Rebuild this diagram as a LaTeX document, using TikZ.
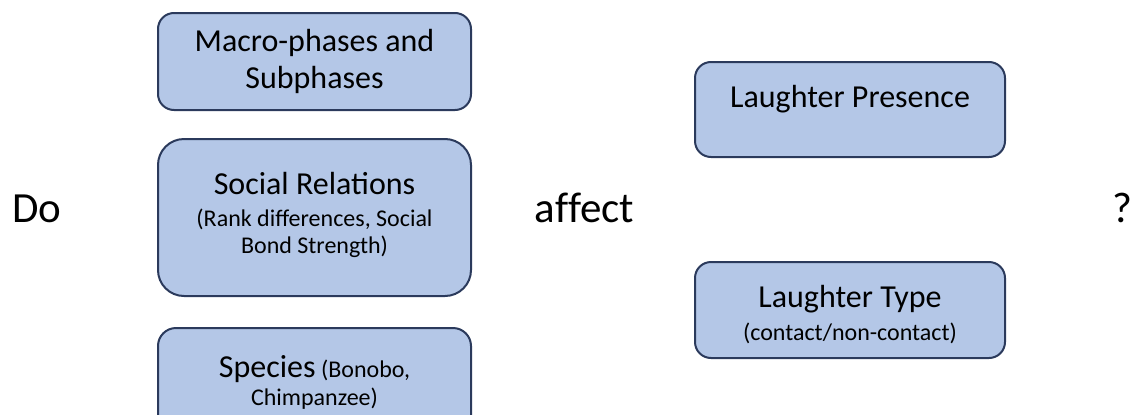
\documentclass[tikz,border=0pt]{standalone}
\usepackage{fontspec}
\setmainfont{Carlito}
\newfontfamily\wordfont[Ligatures=NoCommon]{Carlito}
\usetikzlibrary{positioning}
\definecolor{lqFill}{HTML}{B4C7E7}
\definecolor{lqLine}{HTML}{2B3A5C}
\newcommand{\bigtxt}{\fontsize{16}{18.5}\selectfont}
\newcommand{\smalltxt}{\fontsize{12}{13.5}\selectfont}
\tikzset{
  lqnode/.style={
    draw=lqLine, fill=lqFill, line width=1pt, align=center,
    inner sep=2pt, font=\bigtxt
  },
  factor/.style={lqnode, minimum width=156.5pt},
  outcome/.style={lqnode, minimum width=155pt},
  bigword/.style={font=\wordfont\fontsize{21.5}{25}\selectfont, inner sep=0pt, anchor=base}
}

\begin{document}
\begin{tikzpicture}
  \useasboundingbox (0,0) rectangle (567.5pt,207pt);
  \clip (0,0) rectangle (567.5pt,207pt);
  % left column: factors
  \node[factor, minimum height=48.5pt, rounded corners=8pt] (phases) at (157.25pt,176.25pt)
    {Macro-phases and\\Subphases};
  \node[factor, minimum height=78.5pt, rounded corners=13pt, below=13.5pt of phases, font=\smalltxt, text depth=4.5pt] (social)
    {{\bigtxt Social Relations}\\[2.5pt](Rank differences, Social\\Bond Strength)};
  \node[factor, minimum height=54pt, rounded corners=9pt, below=15pt of social, font=\smalltxt] (species)
    {{\bigtxt Species} (Bonobo,\\[0.5pt]Chimpanzee)};
  % right column: outcomes
  \node[outcome, minimum height=47.5pt, rounded corners=8pt, text height=11pt, text depth=13.5pt] (presence) at (425pt,152.25pt)
    {Laughter Presence};
  \node[outcome, minimum height=48pt, rounded corners=8pt, below=51.5pt of presence, font=\smalltxt, text height=32.5pt] (ltype)
    {{\bigtxt Laughter Type}\\[3pt](contact/non-contact)};
  % question words
  \node[bigword] (do) at (18.5pt,96pt) {Do};
  \node[bigword] (affect) at (292.25pt,96pt) {affect};
  \node[bigword] (qmark) at (561pt,96pt) {?};
\end{tikzpicture}
\end{document}
